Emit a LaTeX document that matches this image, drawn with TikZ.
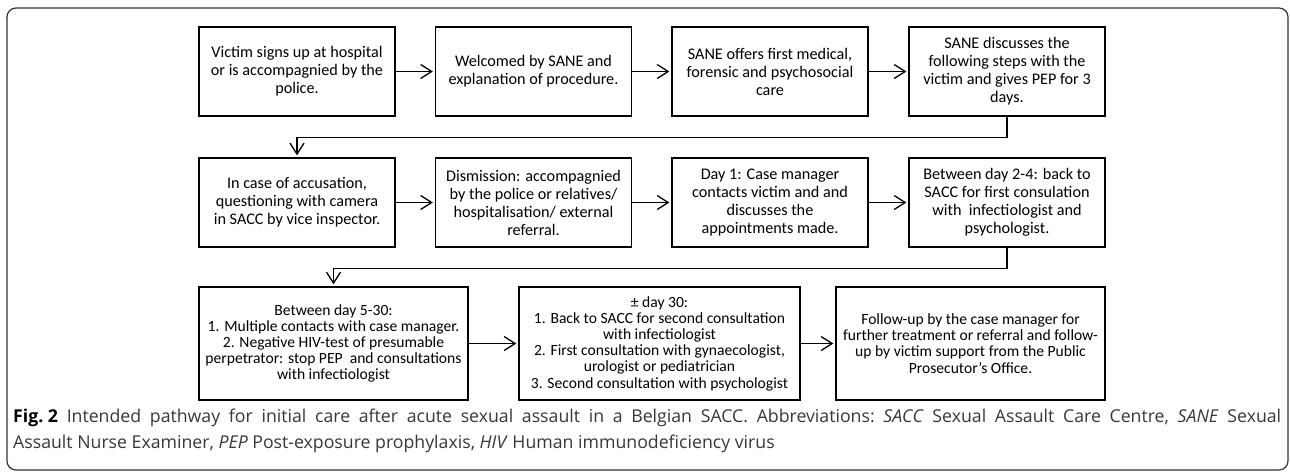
\documentclass[tikz,border=0pt]{standalone}
\usepackage{fontspec}
\setmainfont{Carlito}
\newfontfamily\capfont{Open Sans}
\usepackage{tikz}
\usetikzlibrary{arrows.meta, positioning}
\definecolor{captiongray}{RGB}{55, 55, 55}
\definecolor{framegray}{RGB}{50, 50, 50}

\begin{document}
\begin{tikzpicture}[
    x=1pt, y=-1pt,
    pathbox/.style={draw, line width=1.3pt, align=center, minimum width=196pt, minimum height=89pt, inner sep=2pt, font=\fontsize{16.2}{18}\selectfont},
    widebox/.style={pathbox, minimum width=269pt, minimum height=113pt, font=\fontsize{15.6}{16.2}\selectfont},
    flow/.style={-{Straight Barb[length=11pt, width=14pt, line width=1.3pt]}, line width=1.3pt, shorten >=2pt}
]
    \useasboundingbox (0, 0) rectangle (1290, 472);

    % Frame
    \draw[framegray, line width=1.2pt, rounded corners=9pt] (7, 8) rectangle (1288, 470);

    % First row
    \node[pathbox] (signup) at (297, 71.5) {Victim signs up at hospital\\or is accompagnied by the\\police.};
    \node[pathbox] (welcome) at (533.5, 71.5) {Welcomed by SANE and\\explanation of procedure.};
    \node[pathbox] (firstcare) at (770, 71.5) {SANE offers first medical,\\forensic and psychosocial\\care};
    \node[pathbox] (pep) at (1007, 71.5) {SANE discusses the\\following steps with the\\victim and gives PEP for 3\\days.};

    % Second row
    \node[pathbox] (questioning) at (297, 202.5) {In case of accusation,\\questioning with camera\\in SACC by vice inspector.};
    \node[pathbox] (dismission) at (533.5, 202.5) {Dismission: accompagnied\\by the police or relatives/\\hospitalisation/ external\\referral.};
    \node[pathbox] (dayone) at (770, 202.5) {Day 1: Case manager\\contacts victim and and\\discusses the\\appointments made.};
    \node[pathbox] (daytwo) at (1007, 202.5) {Between day 2-4: back to\\SACC for first consulation\\with\ \ infectiologist and\\psychologist.};

    % Third row
    \node[widebox] (dayfive) at (333.5, 343.5) {Between day 5-30:\\1. Multiple contacts with case manager.\\2. Negative HIV-test of presumable\\perpetrator: stop PEP\ \ and consultations\\with infectiologist};
    \node[widebox, minimum width=281pt] (daythirty) at (659.5, 343.5) {± day 30:\\1. Back to SACC for second consultation\\with infectiologist\\2. First consultation with gynaecologist,\\urologist or pediatrician\\3. Second consultation with psychologist};
    \node[widebox] (followup) at (970.5, 343.5) {Follow-up by the case manager for\\further treatment or referral and follow-\\up by victim support from the Public\\Prosecutor's Office.};

    % Connections
    \draw[flow] (signup) -- (welcome);
    \draw[flow] (welcome) -- (firstcare);
    \draw[flow] (firstcare) -- (pep);
    \draw[flow] (pep.south) -- ++(0, 21) -| (questioning.north);
    \draw[flow] (questioning) -- (dismission);
    \draw[flow] (dismission) -- (dayone);
    \draw[flow] (dayone) -- (daytwo);
    \draw[flow] (daytwo.south) -- ++(0, 21) -| (dayfive.north);
    \draw[flow] (dayfive) -- (daythirty);
    \draw[flow] (daythirty) -- (followup);

    % Caption
    \node[anchor=north west, align=left, inner sep=0pt, text=captiongray, font=\capfont\fontsize{17.7}{26}\selectfont\frenchspacing] (caption) at (13, 409)
        {\makebox[1268pt][s]{\mbox{\textcolor{black}{\textbf{Fig.~2}}} Intended pathway for initial care after acute sexual assault in a Belgian SACC. Abbreviations: \textit{SACC} Sexual Assault Care Centre, \textit{SANE} Sexual}\\Assault Nurse Examiner, \textit{PEP} Post-exposure prophylaxis, \textit{HIV} Human immunodeficiency virus};
\end{tikzpicture}
\end{document}
